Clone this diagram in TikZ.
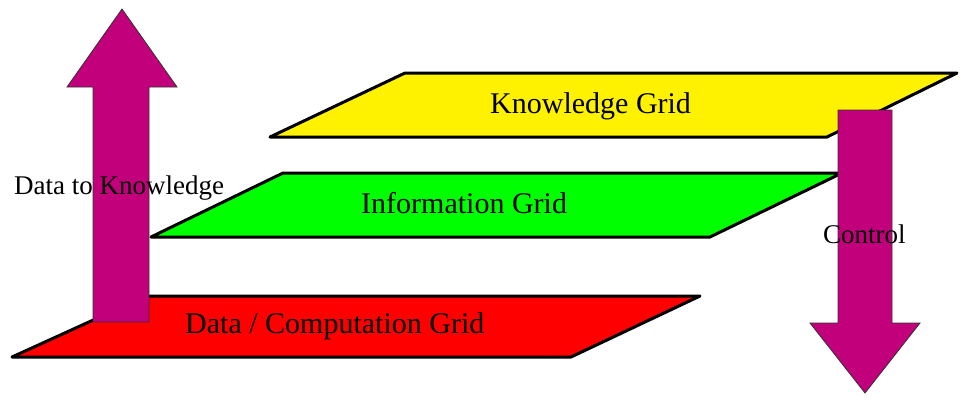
\documentclass[tikz,border=0pt]{standalone}
\usepackage{fontspec}
\setmainfont{Liberation Serif}
\usepackage{tikz}
\usetikzlibrary{positioning}
\definecolor{arrowpurple}{RGB}{194,0,124}

\begin{document}
\begin{tikzpicture}[x=1pt,y=-1pt,
  gridplane/.style={draw=black,line width=3pt,line join=round},
  bigarrow/.style={fill=arrowpurple,draw=black!80,line width=0.8pt},
  gridlbl/.style={inner sep=0pt,anchor=base west,font=\fontsize{30}{36}\selectfont},
  arrowlbl/.style={inner sep=0pt,anchor=base west,font=\fontsize{27}{32}\selectfont}]
  \useasboundingbox (0,0) rectangle (968,408);
  % data / computation grid
  \coordinate (d1) at (12,357);
  \coordinate (d2) at (146,296);
  \coordinate (d3) at (700,296);
  \coordinate (d4) at (571,357);
  \filldraw[gridplane,fill=red] (d1) -- (d2) -- (d3) -- (d4) -- cycle;
  % upward arrow
  \coordinate (up) at (122,9);
  \filldraw[bigarrow] (up) -- (177,87) -- (149,87) -- (149,322)
    -- (93,322) -- (93,87) -- (67,87) -- cycle;
  % information grid
  \coordinate (i1) at (151,237);
  \coordinate (i2) at (283,173);
  \coordinate (i3) at (842,173);
  \coordinate (i4) at (710,237);
  \filldraw[gridplane,fill=green] (i1) -- (i2) -- (i3) -- (i4) -- cycle;
  % knowledge grid
  \coordinate (k1) at (270,137);
  \coordinate (k2) at (405,73);
  \coordinate (k3) at (957,73);
  \coordinate (k4) at (827,137);
  \filldraw[gridplane,fill=yellow] (k1) -- (k2) -- (k3) -- (k4) -- cycle;
  % downward arrow
  \coordinate (down) at (865,393);
  \filldraw[bigarrow] (down) -- (920,323) -- (892,323) -- (892,110)
    -- (838,110) -- (838,323) -- (810,323) -- cycle;
  % labels
  \node[gridlbl] (kg) at (490,113) {Knowledge Grid};
  \node[gridlbl] (ig) at (361,213) {Information Grid};
  \node[gridlbl] (dg) at (185,333) {Data / Computation Grid};
  \node[arrowlbl] (dk) at (14,194) {Data to Knowledge};
  \node[arrowlbl] (ctl) at (823,243) {Control};
\end{tikzpicture}
\end{document}
